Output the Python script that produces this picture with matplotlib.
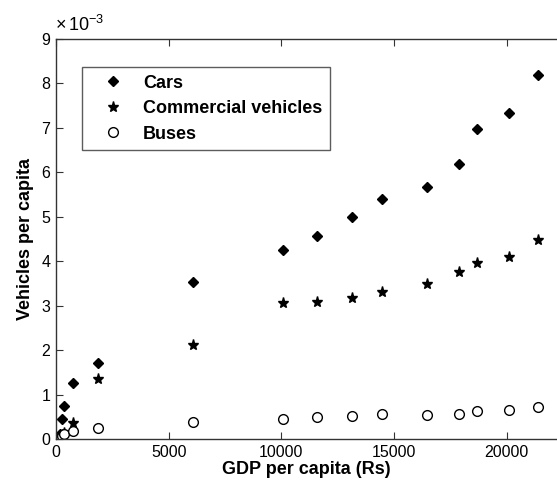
"""Vehicles per capita vs GDP per capita (scatter, MATLAB-style look)."""

import matplotlib
matplotlib.use("Agg")
import matplotlib.pyplot as plt
from matplotlib.ticker import FuncFormatter

plt.rcParams["font.family"] = ["Liberation Sans", "DejaVu Sans"]
plt.rcParams["mathtext.default"] = "regular"

# GDP per capita (Rs), shared by all three series
gdp = [160, 253, 355, 740, 1850, 6060, 10070, 11570, 13150, 14480,
       16465, 17860, 18690, 20090, 21390]

# vehicles per capita, in units of 1e-3
cars = [0.12, 0.44, 0.75, 1.27, 1.72, 3.54, 4.25, 4.57, 4.99, 5.39,
        5.68, 6.18, 6.97, 7.33, 8.20]
commercial = [0.04, 0.08, 0.14, 0.35, 1.35, 2.12, 3.07, 3.09, 3.17, 3.30,
              3.48, 3.75, 3.96, 4.09, 4.47]
buses = [0.03, 0.06, 0.12, 0.17, 0.25, 0.39, 0.46, 0.49, 0.52, 0.57,
         0.53, 0.57, 0.62, 0.66, 0.71]

SCALE = 1e-3


def main() -> None:
    fig = plt.figure(figsize=(5.57, 4.82), dpi=100)
    ax = fig.add_axes([56 / 557, 43 / 482, 1 - 56 / 557, 400 / 482])

    ax.plot(gdp, [v * SCALE for v in cars], linestyle="none", marker="D",
            markersize=5, color="black", label="Cars")
    ax.plot(gdp, [v * SCALE for v in commercial], linestyle="none", marker="*",
            markersize=8, color="black", label="Commercial vehicles")
    ax.plot(gdp, [v * SCALE for v in buses], linestyle="none", marker="o",
            markersize=7, markerfacecolor="white", markeredgecolor="black",
            markeredgewidth=1.0, label="Buses")

    ax.set_xlim(0, 22230)
    ax.set_ylim(0, 9e-3)
    ax.set_xticks([0, 5000, 10000, 15000, 20000])
    ax.set_yticks([i * SCALE for i in range(10)])
    ax.yaxis.set_major_formatter(FuncFormatter(lambda v, _: f"{v / SCALE:g}"))

    for side in ("left", "bottom", "top"):
        ax.spines[side].set_color("#333333")
        ax.spines[side].set_linewidth(1.0)
    ax.spines["right"].set_visible(False)
    ax.tick_params(direction="in", length=5, width=0.8, color="#333333",
                   labelsize=11.5, top=True, pad=4)

    ax.text(-0.002, 1.01, r"$\times\,10^{-3}$", transform=ax.transAxes,
            fontsize=13, ha="left", va="bottom")

    ax.set_xlabel("GDP per capita (Rs)", fontsize=13, fontweight="bold",
                  labelpad=1)
    ax.set_ylabel("Vehicles per capita", fontsize=13, fontweight="bold",
                  labelpad=5)

    leg = ax.legend(loc="upper left", bbox_to_anchor=(0.052, 0.93),
                    borderaxespad=0, prop={"size": 13, "weight": "bold"},
                    frameon=True, fancybox=False, edgecolor="#333333",
                    borderpad=0.42, handlelength=2.6, handletextpad=0.35,
                    labelspacing=0.47)
    leg.get_frame().set_linewidth(1.0)

    fig.savefig("out.png", dpi=100)
    plt.close(fig)


if __name__ == "__main__":
    main()
